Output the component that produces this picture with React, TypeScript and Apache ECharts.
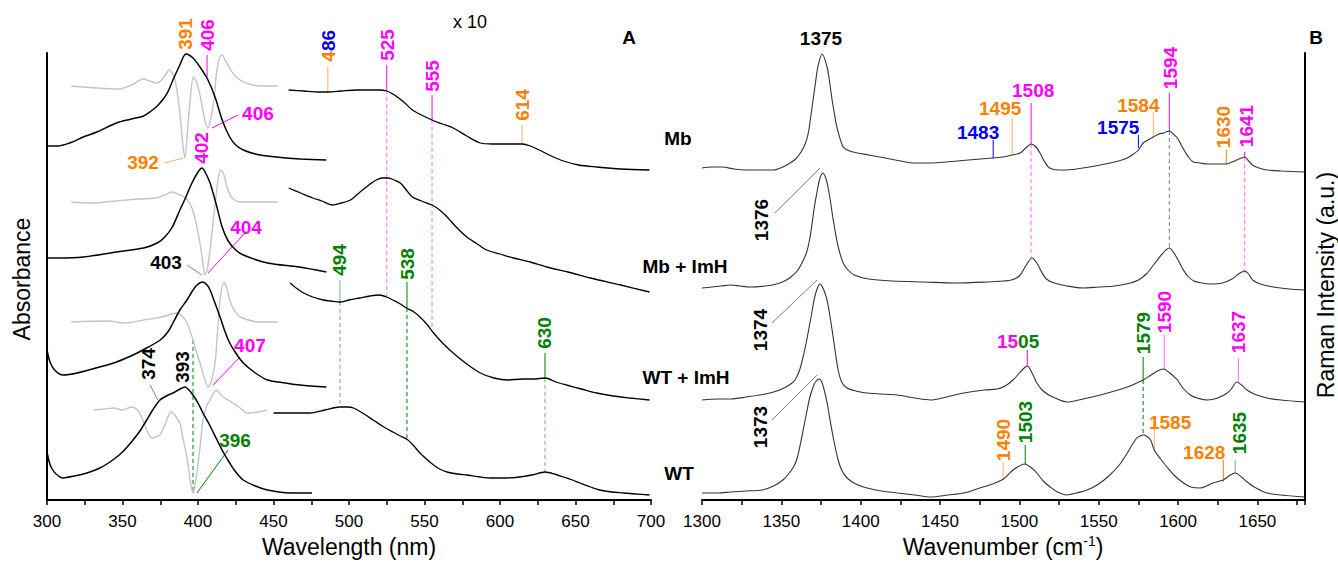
import React, { useEffect, useRef } from "react";
import * as echarts from "echarts";

// ---------- Panel A: absorbance (x in nm, y in arbitrary offset units) ----------
const MB_SORET: [number, number][] = [[300,354],[307,354],[315,357],[324,363],[333,368],[346,377],[356,381],[364,384],[369,389],[373,394],[377,401],[380,408],[383.4,420],[388,435],[392,446],[396.7,442],[401.3,433],[406.6,420],[411.3,403],[416,380],[421,363],[425,355],[430,350],[438,346],[446,344],[458,342],[468,341],[485,340]];
const MB_DERIV: [number, number][] = [[316,414],[333,412],[348,411],[356,415],[364,421],[368,419],[373,417],[377,422],[381,430],[384,424],[386,410],[388.5,380],[390,355],[391.3,342],[392.7,362],[394.5,395],[397,423],[399.5,416],[402,400],[404.5,380],[406.5,372],[408.3,380],[410.5,400],[412.5,430],[414.5,443],[416,445],[418,440],[421,432],[424,425],[428,420],[434,416],[441,414],[453,414]];
const MBIMH_SORET: [number, number][] = [[300,242],[308,242],[324,243],[346,248],[364,252],[373,257],[378,263],[383,273],[388,290],[392,303],[396,317],[400,328],[402.6,332],[405,327],[408,317],[412,296],[416,273],[420,259],[425,250],[430,245],[446,237],[467,233],[485,228]];
const MBIMH_DERIV: [number, number][] = [[316,298],[330,297],[345,299],[360,301],[372,302],[378,305],[383,308],[388,305],[392,302],[396,292],[399,275],[401.5,255],[403.5,235],[404.6,225],[406,230],[408,250],[410,278],[412,305],[413.5,322],[415,330],[417,326],[419,314],[422,303],[428,298],[440,298],[453,298]];
const WTIMH_SORET: [number, number][] = [[300,150],[302,138],[305,130],[310.6,125],[320,127],[335,133],[346,138],[357,145],[366,152],[375,160],[380,168],[383.4,177],[388,190],[392.7,200],[396.7,210],[399.3,215],[403,218],[406,215],[408,210],[411,198],[414.6,183],[418,168],[421,157],[425,147],[430,137],[438,127],[446,120],[458,117],[467.5,115],[485,113]];
const WTIMH_DERIV: [number, number][] = [[316,178],[340,179],[352,177],[364,180],[376,183],[386,187],[390,183],[393,176],[396.7,160],[399,148],[401.3,137],[404,123],[406.6,113],[409,120],[411.3,137],[413,170],[414.6,200],[417.2,218],[419,212],[421,200],[424,190],[428,183],[441,178],[453,178]];
const WT_SORET: [number, number][] = [[300,48],[301.5,38],[303,32],[306,26],[310.6,22],[318,24],[326.5,27],[335,32],[341.7,38],[350,48],[357,60],[362,70],[366,80],[370,90],[374.8,100],[379,104],[383.4,107],[387,110],[391.4,113],[394,110],[396.7,105],[400,97],[403.3,87],[408,74],[412.6,60],[417,47],[421,37],[425,28],[430,20],[438,14],[446,10],[461,7],[475.5,7]];
const WT_DERIV: [number, number][] = [[331,90],[338,91],[344,92],[350,90],[356,93],[360,90],[362,85],[364,78],[366,70],[369.5,62],[372,63],[374.8,65],[378,75],[380,83],[382,88],[383.4,87],[385.5,83],[388,77],[390,62],[392.7,43],[394.8,20],[396.7,7],[398,15],[399.3,27],[401.5,55],[403.3,80],[406,95],[408,100],[410,106],[412,110],[414,107],[416.6,103],[420,100],[423,97],[428,92],[432.5,87],[440,88],[445.7,90]];
const MB_VIS: [number, number][] = [[460,410],[470,409],[480,408],[486,408],[495,409],[505,410],[514,410],[520,410],[525,409],[529,406],[532,403],[537,397],[542,390],[548,385],[555,380],[562,376],[569,372],[578,364],[587,357],[595,356],[605,356],[615,356],[620,354],[626,350],[634,344],[642,339],[652,335],[664,333],[680,331],[699,330]];
const MBIMH_VIS: [number, number][] = [[460,312],[468,307],[476,302],[482,299],[489,295],[495,297],[501,300],[505,305],[509,310],[514,316],[518,320],[522,322],[526,322],[530,320],[534,317],[538,310],[542,303],[548,299],[555,295],[560,290],[565,283],[571,273],[578,263],[585,256],[591,250],[600,246],[609,242],[620,238],[631,233],[645,228],[660,222],[680,215],[699,208]];
const WTIMH_VIS: [number, number][] = [[461,217],[465,212],[470,207],[476,203],[483,200],[488,199],[494,198],[500,200],[507,202],[514,204],[520,205],[525,203],[529,200],[534,196],[538,192],[543,188],[547,183],[552,175],[556,167],[562,157],[569,147],[578,136],[587,127],[596,122],[605,120],[615,121],[622,121],[630,122],[637,118],[644,115],[654,111],[664,107],[675,104],[686,102],[699,100]];
const WT_VIS: [number, number][] = [[450,87],[462,87],[474,87],[484,90],[494,93],[499,93],[503,92],[510,86],[516,80],[522,74],[529,68],[534,64],[539,60],[543,54],[547,47],[552,40],[556,35],[560,31],[565,28],[572,26],[578,25],[587,23],[595,22],[604,22],[613,23],[621,25],[630,28],[636,26],[642,23],[648,20],[653,17],[660,13],[666,10],[674,8],[682,7],[690,6],[699,5]];

// ---------- Panel B: Raman (x in cm-1) ----------
const MB_RAMAN: [number, number][] = [[1300,332],[1306,333],[1313,333],[1320,331],[1328,330],[1336,330],[1345,330],[1351,333],[1355.5,337],[1359,341],[1362,347],[1365,356],[1367,367],[1368.5,383],[1370,400],[1371.5,417],[1373,433],[1375.7,446],[1378.8,433],[1380.5,417],[1382,400],[1383.5,386],[1385,373],[1389,353],[1393,349],[1398,347],[1405,345],[1412,343],[1422,340],[1433,337],[1444,337],[1454,338],[1468,340],[1483,342],[1490,343],[1495.5,345],[1500.5,347],[1504,352],[1507.5,356],[1510.5,353],[1513,347],[1516,338],[1519,332],[1525,330],[1530,330],[1540,332],[1551,335],[1560,338],[1568,342],[1572,346],[1575,350],[1578,357],[1581,360],[1584.4,363],[1588,366],[1591,367],[1594.6,369],[1597,366],[1599.6,362],[1602,355],[1604.5,348],[1607,342],[1609.6,338],[1614,337],[1618.4,336],[1624,336],[1630.4,336],[1634,338],[1637,340],[1640,342],[1642,343],[1644.5,339],[1646.8,335],[1651,332],[1656,330],[1665,329],[1680,328]];
const MBIMH_RAMAN: [number, number][] = [[1300,212],[1306,213],[1312,214],[1318,215],[1324,214],[1330,213],[1340,214],[1347,216],[1352,219],[1356,223],[1360,229],[1363,237],[1366,248],[1368,262],[1369.5,278],[1371,295],[1372.5,308],[1374,320],[1376,327],[1378,322],[1379.5,312],[1381,298],[1382.5,282],[1384,268],[1386,252],[1389,237],[1392,230],[1396,225],[1405,221],[1420,219],[1440,218],[1460,217],[1480,218],[1490,219],[1495,220],[1500,224],[1504,234],[1508,242],[1511,237],[1514,228],[1517,221],[1522,217],[1530,214],[1540,212],[1550,213],[1560,214],[1570,217],[1575,220],[1580,226],[1585,236],[1590,246],[1594.5,252],[1597,248],[1600,240],[1603,231],[1606,224],[1610,219],[1615,217],[1620,216],[1628,217],[1634,221],[1638,226],[1642,229],[1644.5,226],[1647,220],[1652,216],[1660,213],[1670,211],[1680,210]];
const WTIMH_RAMAN: [number, number][] = [[1300,100],[1310,101],[1318,101],[1328,103],[1340,106],[1349,110],[1355,115],[1358.6,120],[1361.5,130],[1363.7,143],[1366,160],[1368,177],[1369.5,190],[1371,203],[1373,213],[1374.5,216],[1376.5,211],[1378.8,200],[1380.5,185],[1382,170],[1384,148],[1385.8,130],[1388,118],[1391.4,112],[1397,109],[1404,107],[1413,106],[1423,105],[1434,102],[1444,100],[1454,103],[1465,107],[1478,110],[1486,111],[1491,114],[1496,120],[1500,127],[1503,132],[1505,134],[1508,127],[1511,117],[1515,109],[1521,103],[1530,98],[1540,101],[1551,105],[1560,109],[1568,113],[1574,117],[1578,120],[1583,125],[1587,129],[1590.8,131],[1594,128],[1597,124],[1599.6,120],[1603,112],[1607.7,105],[1612,102],[1618.4,100],[1625,102],[1631,107],[1634,112],[1637,118],[1640,115],[1643.5,110],[1648,106],[1656,102],[1665,100],[1680,98]];
const WT_RAMAN: [number, number][] = [[1300,7],[1310,7],[1318,8],[1328,9],[1338,10],[1345,14],[1351,20],[1355,27],[1358,34],[1360,42],[1362,56],[1364,72],[1366,88],[1368,103],[1370,113],[1371.5,118],[1373.8,121],[1375.5,118],[1377,110],[1379,96],[1380.7,80],[1383,60],[1385.8,40],[1388,30],[1391.4,22],[1397,16],[1404,12],[1413,9],[1423,7],[1434,5],[1444,3],[1455,5],[1465,7],[1475,12],[1483,16],[1490,21],[1496,30],[1500,34],[1503,36],[1507,33],[1511,27],[1515,19],[1519.4,13],[1524,8],[1530,5],[1536,7],[1542.7,10],[1550,16],[1557,25],[1563,35],[1568,47],[1571,55],[1574,62],[1576,64],[1578,65],[1580,64],[1582.7,60],[1585,50],[1589,41],[1593,33],[1598,24],[1603.5,17],[1608,13],[1614,12],[1618,14],[1622,17],[1628.5,20],[1632,24],[1636,27],[1640,23],[1643.5,18],[1648,13],[1656,7],[1665,5],[1680,3]];

// ---------- Annotations: [x, y, text, colour, rotated] ----------
type Lbl = [number, number, string, string, number];
const A_LABELS: Lbl[] = [
  [391.4, 466, "391", "orange", 1], [406, 465, "406", "magenta", 1],
  [363.6, 338, "392", "orange", 0], [402.6, 352, "402", "magenta", 1],
  [439.7, 387, "406", "magenta", 0], [378.8, 238, "403", "black", 0],
  [431.8, 273, "404", "magenta", 0], [434.4, 155, "407", "magenta", 0],
  [367.2, 136, "374", "black", 1], [390, 133, "393", "black", 1],
  [424.5, 60, "396", "green", 0],
  [486.6, 443.5, "4", "orange", 1], [486.6, 459.5, "86", "blue", 1],
  [525.8, 455, "525", "magenta", 1], [555.6, 424, "555", "magenta", 1],
  [614.6, 395, "614", "orange", 1], [494, 240, "494", "green", 1],
  [539, 236, "538", "green", 1], [629.8, 167, "630", "green", 1],
];
const B_LABELS: Lbl[] = [
  [1375, 462, "1375", "black", 0], [1474, 368, "1483", "blue", 0],
  [1487.9, 392, "1495", "orange", 0], [1508.7, 410, "1508", "magenta", 0],
  [1562.3, 373, "1575", "blue", 0], [1575, 395, "1584", "orange", 0],
  [1595, 432, "1594", "magenta", 1], [1628.5, 373, "1630", "orange", 1],
  [1643, 374, "1641", "magenta", 1], [1337.8, 280, "1376", "black", 1],
  [1336.6, 170, "1374", "black", 1], [1336.6, 73, "1373", "black", 1],
  [1499.2, 159, "{m|15}{g|05}", "rich", 0], [1578, 167, "1579", "green", 1],
  [1591.3, 188, "1590", "magenta", 1], [1638, 168, "1637", "magenta", 1],
  [1489.8, 60, "1490", "orange", 1], [1503.7, 78, "1503", "green", 1],
  [1595, 78, "1585", "orange", 0], [1616.5, 48, "1628", "orange", 0],
  [1638.6, 67, "1635", "green", 1],
];
// [x, y1, y2, colour, dashed]
type Tick = [number, number, number, string, number];
const A_TICKS: Tick[] = [
  [406, 445, 423, "magenta", 0], [486, 433, 408, "lightorange", 0],
  [525, 435, 410, "magenta", 0], [525, 410, 203, "lightmagenta", 1],
  [555, 405, 380, "magenta", 0], [555, 380, 170, "lightmagenta", 1],
  [614.6, 375, 356, "lightorange", 0],
  [494, 220, 198, "lightgreen", 0], [494, 198, 93, "lightgreen", 1],
  [538.4, 218, 192, "green", 0], [538.4, 192, 60, "green", 1],
  [629.8, 147, 122, "green", 0], [629.8, 122, 28, "lightgreen", 1],
  [396.7, 160, 7, "green", 1],
];
const B_TICKS: Tick[] = [
  [1483.5, 360, 342, "blue", 0], [1495.5, 382, 345, "lightorange", 0],
  [1507.4, 397, 356, "magenta", 0], [1507.4, 356, 242, "lightmagenta", 1],
  [1575, 365, 352, "blue", 0], [1584.4, 387, 363, "lightorange", 0],
  [1594.5, 407, 369, "magenta", 0], [1594.5, 369, 252, "gray", 1],
  [1630.4, 350, 336, "orange", 0],
  [1642, 348, 343, "magenta", 0], [1642, 343, 225, "lightmagenta", 1],
  [1505, 150, 134, "magenta", 0],
  [1578, 143, 120, "green", 0], [1578, 120, 65, "green", 1],
  [1591.3, 165, 131, "lightmagenta", 0], [1638, 142, 118, "lightmagenta", 0],
  [1489.8, 38, 20, "lightorange", 0], [1503.7, 55, 36, "green", 0],
  [1585, 72, 48, "lightorange", 0], [1628.5, 40, 18, "orange", 0],
  [1636, 40, 27, "lightgreen", 0],
];
// [x1, y1, x2, y2, colour]
type Lead = [number, number, number, number, string];
const A_LEADERS: Lead[] = [
  [378.1, 337, 390, 342, "lightorange"], [426.5, 385, 409.3, 372, "magenta"],
  [392.7, 235, 402.6, 225, "gray"], [431.1, 267, 406.6, 227, "magenta"],
  [427.8, 143, 410, 115, "magenta"], [368.2, 115, 373.5, 100, "gray"],
  [419.9, 50, 399.3, 7, "green"],
];
const B_LEADERS: Lead[] = [
  [1346, 287, 1374.4, 332, "gray"], [1344.1, 177, 1372.5, 220, "gray"],
  [1344.1, 80, 1372.5, 125, "gray"],
];
const SAMPLE_NAMES: [string, number, number][] = [["Mb", 678, 138], ["Mb + ImH", 685, 266], ["WT + ImH", 686, 377], ["WT", 679, 473]];

const FONT = "'Liberation Sans', Arial, Helvetica, sans-serif";
const COLORS: Record<string, string> = {
  black: "#000000", orange: "#FF8000", lightorange: "#FFB060", magenta: "#FF00FF",
  lightmagenta: "#FF66FF", blue: "#0000FF", green: "#008000", lightgreen: "#70B870", gray: "#808080",
};
const RICH_BASE = { fontSize: 19, fontWeight: "bold", fontFamily: FONT, textBorderWidth: 0, opacity: 1 };
const RICH = {
  o: { ...RICH_BASE, color: COLORS.orange },
  b: { ...RICH_BASE, color: COLORS.blue },
  m: { ...RICH_BASE, color: COLORS.magenta },
  g: { ...RICH_BASE, color: COLORS.green },
};

function curve(data: [number, number][], idx: number, color: string, width: number) {
  return {
    type: "line", xAxisIndex: idx, yAxisIndex: idx, data, symbol: "none", showSymbol: false,
    smooth: 0.3, clip: false, silent: true, z: 3, lineStyle: { color, width },
  };
}
function seg(x1: number, y1: number, x2: number, y2: number, idx: number, color: string, dashed: boolean) {
  return {
    type: "line", xAxisIndex: idx, yAxisIndex: idx, data: [[x1, y1], [x2, y2]], symbol: "none",
    clip: false, silent: true, z: 2, lineStyle: { color, width: 1, type: dashed ? [4, 3] : "solid" },
  };
}
function labels(list: Lbl[], idx: number) {
  return {
    type: "scatter", xAxisIndex: idx, yAxisIndex: idx, symbolSize: 0, clip: false, silent: true, z: 5,
    itemStyle: { color: "#fff", opacity: 1 },
    data: list.map(([x, y, text, c, rot]) => ({
      value: [x, y],
      itemStyle: { opacity: 1 },
      label: {
        show: true, position: "inside", formatter: () => text, rotate: rot ? 90 : 0, opacity: 1,
        color: COLORS[c] || "#000", fontSize: 19, fontWeight: "bold", fontFamily: FONT,
        textBorderWidth: 0, textBorderColor: "transparent", rich: RICH,
      },
    })),
  };
}
function xAxis(idx: number, min: number, max: number) {
  return {
    type: "value", gridIndex: idx, min, max, interval: 25,
    axisLine: { show: true, onZero: false, lineStyle: { color: "#000", width: 2 } },
    axisTick: { show: true, inside: false, length: 5, lineStyle: { color: "#000", width: 1.5 } },
    axisLabel: { formatter: (v: number) => (v % 50 === 0 ? String(v) : ""), fontSize: 17, color: "#000", fontFamily: FONT, margin: 13 },
    splitLine: { show: false },
  };
}
function yAxis(idx: number, position: string) {
  return {
    type: "value", gridIndex: idx, position, min: 0, max: 447,
    axisLine: { show: true, onZero: false, lineStyle: { color: "#000", width: 2 } },
    axisTick: { show: false }, axisLabel: { show: false }, splitLine: { show: false },
  };
}
function text(t: string, x: number, y: number, size: number, opts: any = {}) {
  return {
    type: "text", x, y, rotation: opts.rot ? Math.PI / 2 : 0, silent: true,
    style: { text: t, fontSize: size, fontFamily: FONT, fontWeight: opts.bold ? "bold" : "normal", fill: "#000", align: "center", verticalAlign: "middle", rich: opts.rich },
  };
}

export default function App() {
  const ref = useRef<HTMLDivElement>(null);
  useEffect(() => {
    document.body.style.margin = "0";
    const chart = echarts.init(ref.current!, null, { renderer: "svg" });
    const series: any[] = [
      curve(MB_DERIV, 0, "#C4C4C4", 1.4), curve(MBIMH_DERIV, 0, "#C4C4C4", 1.4),
      curve(WTIMH_DERIV, 0, "#C4C4C4", 1.4), curve(WT_DERIV, 0, "#C4C4C4", 1.4),
      curve(MB_SORET, 0, "#000", 1.5), curve(MBIMH_SORET, 0, "#000", 1.5),
      curve(WTIMH_SORET, 0, "#000", 1.5), curve(WT_SORET, 0, "#000", 1.5),
      curve(MB_VIS, 0, "#000", 1.3), curve(MBIMH_VIS, 0, "#000", 1.3),
      curve(WTIMH_VIS, 0, "#000", 1.3), curve(WT_VIS, 0, "#000", 1.3),
      curve(MB_RAMAN, 1, "#333", 1.1), curve(MBIMH_RAMAN, 1, "#333", 1.1),
      curve(WTIMH_RAMAN, 1, "#333", 1.1), curve(WT_RAMAN, 1, "#333", 1.1),
    ];
    A_TICKS.forEach(([x, y1, y2, c, d]) => series.push(seg(x, y1, x, y2, 0, COLORS[c], !!d)));
    B_TICKS.forEach(([x, y1, y2, c, d]) => series.push(seg(x, y1, x, y2, 1, COLORS[c], !!d)));
    A_LEADERS.forEach(([x1, y1, x2, y2, c]) => series.push(seg(x1, y1, x2, y2, 0, COLORS[c], false)));
    B_LEADERS.forEach(([x1, y1, x2, y2, c]) => series.push(seg(x1, y1, x2, y2, 1, COLORS[c], false)));
    series.push(labels(A_LABELS, 0), labels(B_LABELS, 1));

    const graphic: any[] = [
      text("Absorbance", 22, 279, 23, { rot: true }),
      text("Raman Intensity (a.u.)", 1326, 285, 23, { rot: true }),
      text("Wavelength (nm)", 349, 547, 23),
      text("Wavenumber (cm{s|-1})", 1003, 547, 23, { rich: { s: { fontSize: 14, fontFamily: FONT, verticalAlign: "top", lineHeight: 26 } } }),
      text("x 10", 470, 22, 18),
      text("A", 629, 37, 19, { bold: true }),
      text("B", 1316, 37, 19, { bold: true }),
      ...SAMPLE_NAMES.map(([n, x, y]) => text(n, x, y, 19, { bold: true })),
    ];

    chart.setOption({
      animation: false,
      backgroundColor: "#fff",
      grid: [
        { left: 47, top: 53, width: 604, height: 447 },
        { left: 702, top: 53, width: 603, height: 447 },
      ],
      xAxis: [xAxis(0, 300, 700), xAxis(1, 1300, 1680)],
      yAxis: [yAxis(0, "left"), yAxis(1, "right")],
      series,
      graphic,
    });
    return () => chart.dispose();
  }, []);
  return <div ref={ref} style={{ width: 1338, height: 565 }} />;
}
